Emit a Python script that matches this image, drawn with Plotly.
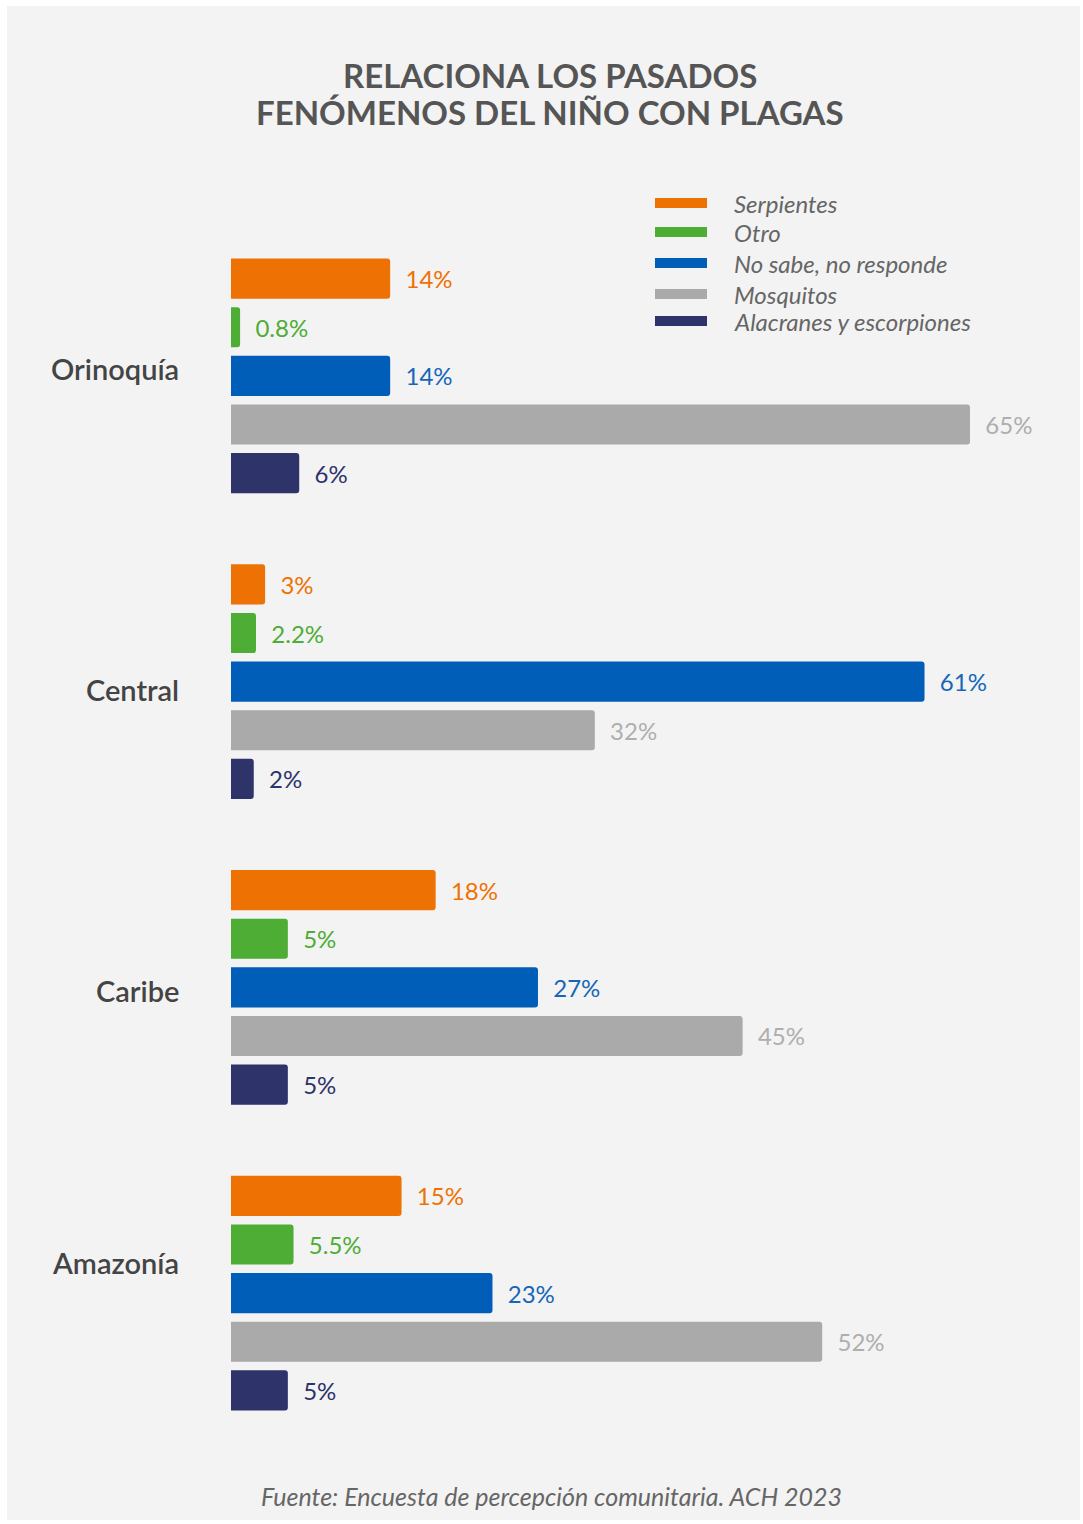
import plotly.graph_objects as go

# ---------------- data ----------------
regions = ["Orinoquía", "Central", "Caribe", "Amazonía"]
series_names = ["Serpientes", "Otro", "No sabe, no responde", "Mosquitos", "Alacranes y escorpiones"]
serpientes = [14, 3, 18, 15]
otro = [0.8, 2.2, 5, 5.5]
no_sabe = [14, 61, 27, 23]
mosquitos = [65, 32, 45, 52]
alacranes = [6, 2, 5, 5]
title_lines = ["RELACIONA LOS PASADOS", "FENÓMENOS DEL NIÑO CON PLAGAS"]
source_text = "Fuente: Encuesta de percepción comunitaria. ACH 2023"

# ---------------- style ----------------
W, H = 1083, 1524
ML, MR, MT, MB = 231, 56, 223, 78
bar_colors = ["#EE7203", "#4DAD35", "#005EB8", "#AAAAAA", "#2E3369"]
text_colors = ["#EE7203", "#4DAD35", "#1666B8", "#AEAEAE", "#2E3369"]
FONT = "Lato"
region_label_shift = [7, -8, -3, 31]

plot_w = W - ML - MR
plot_h = H - MT - MB


def px_x(px):
    return (px - ML) / plot_w


def px_y(py):
    return (H - MB - py) / plot_h


series_values = [serpientes, otro, no_sabe, mosquitos, alacranes]

fig = go.Figure()
for name, vals, col, tcol in zip(series_names, series_values, bar_colors, text_colors):
    fig.add_trace(go.Bar(
        y=regions, x=vals, orientation="h", name=name,
        marker=dict(color=col, cornerradius=3, line=dict(width=0)),
        text=[f"  {v:g}%" for v in vals],
        textposition="outside",
        textfont=dict(family=FONT, size=24, color=tcol),
        cliponaxis=False,
        showlegend=False,
        hoverinfo="skip",
    ))

shapes = [dict(type="rect", xref="paper", yref="paper",
               x0=px_x(7), x1=px_x(1080), y0=px_y(1520), y1=px_y(6),
               fillcolor="#F3F3F3", line=dict(width=0), layer="below")]

annotations = []
# legend (manual, to get the wide line swatches)
legend_y = [203, 232, 263, 294, 321]
for name, col, ly in zip(series_names, bar_colors, legend_y):
    shapes.append(dict(type="rect", xref="paper", yref="paper",
                       x0=px_x(655), x1=px_x(707), y0=px_y(ly + 5), y1=px_y(ly - 5),
                       fillcolor=col, line=dict(width=0)))
    annotations.append(dict(xref="paper", yref="paper", x=px_x(732), y=px_y(ly),
                            xanchor="left", yanchor="middle", showarrow=False,
                            text=f"<i>{name}</i>",
                            font=dict(family=FONT, size=24, color="#666666")))

# region labels
for reg, shift in zip(regions, region_label_shift):
    annotations.append(dict(xref="paper", yref="y", x=px_x(181), y=reg, yshift=shift,
                            xanchor="right", yanchor="middle", showarrow=False,
                            text=reg,
                            font=dict(family=FONT, size=29, color="#444444", weight=600)))

# title (two lines, tight leading)
for line, ty in zip(title_lines, [75, 112]):
    annotations.append(dict(xref="paper", yref="paper", x=px_x(550), y=px_y(ty),
                            xanchor="center", yanchor="middle", showarrow=False,
                            text=f"<b>{line}</b>",
                            font=dict(family=FONT, size=33, color="#555555")))
# source
annotations.append(dict(xref="paper", yref="paper", x=px_x(551), y=px_y(1496),
                        xanchor="center", yanchor="middle", showarrow=False,
                        text=f"<i>{source_text}</i>",
                        font=dict(family=FONT, size=25, color="#666666")))

fig.update_layout(
    width=W, height=H,
    margin=dict(l=ML, r=MR, t=MT, b=MB),
    paper_bgcolor="#FFFFFF", plot_bgcolor="rgba(0,0,0,0)",
    barmode="group", bargap=0.205, bargroupgap=0.175,
    font=dict(family=FONT),
    xaxis=dict(range=[0, plot_w / (970 - ML) * 65], visible=False, fixedrange=True),
    yaxis=dict(type="category", categoryorder="array", categoryarray=regions,
               range=[3.5, -0.5], visible=False, fixedrange=True),
    shapes=shapes, annotations=annotations,
    uniformtext=dict(mode=False),
)

fig.write_html("out.html")
